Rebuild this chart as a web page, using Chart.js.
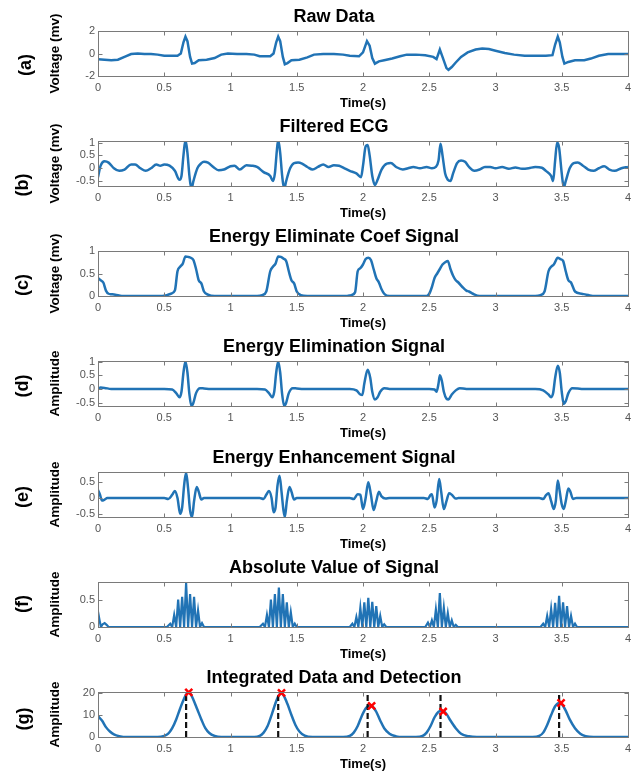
<!DOCTYPE html>
<html>
<head>
<meta charset="utf-8">
<script src="https://cdn.jsdelivr.net/npm/chart.js@4/dist/chart.umd.min.js"></script>
<style>
  body { margin: 0; background: #fff; }
  #wrap { position: relative; width: 642px; height: 772px; overflow: hidden; }
  canvas { position: absolute; left: 0; }
  .lab { position: absolute; font: bold 18px "Liberation Sans", Arial, sans-serif; color: #000;
         transform: translate(-50%, -50%) rotate(-90deg); white-space: nowrap; }
</style>
</head>
<body>
<div id="wrap">
  <canvas id="c0" width="642" height="110" style="top:0px"></canvas>
  <canvas id="c1" width="642" height="110" style="top:110px"></canvas>
  <canvas id="c2" width="642" height="110" style="top:220px"></canvas>
  <canvas id="c3" width="642" height="110" style="top:330px"></canvas>
  <canvas id="c4" width="642" height="110" style="top:441px"></canvas>
  <canvas id="c5" width="642" height="110" style="top:551px"></canvas>
  <canvas id="c6" width="642" height="110" style="top:661px"></canvas>
  <div class="lab" style="left:25px;top:65px">(a)</div>
  <div class="lab" style="left:22px;top:185px">(b)</div>
  <div class="lab" style="left:22px;top:285px">(c)</div>
  <div class="lab" style="left:22px;top:386px">(d)</div>
  <div class="lab" style="left:22px;top:497px">(e)</div>
  <div class="lab" style="left:22px;top:604px">(f)</div>
  <div class="lab" style="left:23px;top:719px">(g)</div>
</div>
<script>
// ---------- tick labels ----------
const xTicks = [0, 0.5, 1, 1.5, 2, 2.5, 3, 3.5, 4];
const aTicks = [-2, 0, 2];
const bTicks = [-0.5, 0, 0.5, 1];
const cTicks = [0, 0.5, 1];
const dTicks = [-0.5, 0, 0.5, 1];
const eTicks = [-0.5, 0, 0.5];
const fTicks = [0, 0.5];
const gTicks = [0, 10, 20];

// ---------- (a) Raw Data ----------
const rawT = [0,0.05,0.1,0.15,0.2,0.25,0.3,0.35,0.4,0.45,0.5,0.55,0.6,0.625,0.645,0.66,0.675,0.695,0.71,0.73,0.76,0.82,0.88,0.93,0.98,1.05,1.12,1.18,1.22,1.3,1.325,1.345,1.36,1.375,1.395,1.41,1.43,1.46,1.52,1.58,1.63,1.7,1.78,1.85,1.9,1.97,2.0,2.03,2.05,2.07,2.09,2.12,2.16,2.22,2.28,2.33,2.4,2.47,2.53,2.555,2.58,2.6,2.63,2.645,2.67,2.7,2.74,2.79,2.85,2.9,2.95,3.0,3.07,3.14,3.22,3.3,3.38,3.43,3.45,3.47,3.485,3.505,3.52,3.55,3.6,3.67,3.72,3.78,3.85,3.92,4.0];
const rawV = [-0.5,-0.55,-0.6,-0.55,-0.3,-0.05,0,-0.05,-0.05,-0.1,-0.2,-0.2,-0.2,0,1.0,1.5,1.1,-0.3,-0.9,-0.85,-0.6,-0.55,-0.4,-0.1,0,-0.05,-0.05,-0.1,-0.25,-0.25,0,1.0,1.5,1.1,-0.3,-0.95,-0.85,-0.6,-0.55,-0.35,-0.1,-0.05,-0.05,-0.1,-0.2,-0.25,0.1,1.1,0.7,-0.4,-0.9,-0.7,-0.6,-0.45,-0.25,-0.1,-0.1,-0.15,-0.3,-0.5,0.35,-0.3,-1.3,-1.45,-1.2,-0.8,-0.3,0.1,0.35,0.45,0.4,0.25,0.05,-0.1,-0.2,-0.2,-0.2,-0.15,0.8,1.5,1.0,-0.3,-0.9,-0.75,-0.6,-0.6,-0.45,-0.2,-0.05,-0.05,-0.05];

// ---------- (b) Filtered ECG ----------
const filtT = [0,0.02,0.05,0.08,0.12,0.16,0.2,0.25,0.28,0.32,0.36,0.4,0.44,0.47,0.5,0.54,0.58,0.615,0.63,0.645,0.66,0.675,0.69,0.705,0.72,0.75,0.78,0.8,0.83,0.87,0.91,0.95,1.0,1.03,1.07,1.12,1.16,1.2,1.25,1.3,1.32,1.335,1.35,1.36,1.375,1.39,1.405,1.42,1.45,1.48,1.51,1.54,1.58,1.62,1.66,1.7,1.74,1.78,1.82,1.86,1.9,1.95,1.985,2.0,2.02,2.035,2.05,2.07,2.09,2.11,2.14,2.18,2.21,2.25,2.3,2.34,2.38,2.43,2.48,2.52,2.55,2.57,2.585,2.6,2.62,2.64,2.66,2.68,2.71,2.74,2.77,2.8,2.84,2.88,2.92,2.96,3.0,3.05,3.1,3.15,3.2,3.25,3.3,3.35,3.38,3.42,3.435,3.45,3.465,3.48,3.5,3.515,3.53,3.56,3.59,3.62,3.66,3.7,3.74,3.78,3.82,3.86,3.9,3.95,4.0];
const filtV = [-0.35,0.1,0.27,0.22,0.0,-0.1,-0.05,0.15,0.15,0.0,-0.1,0.0,0.15,0.1,0.15,0.1,-0.1,-0.45,-0.3,0.5,1.1,0.6,-0.3,-0.8,-0.5,0.0,0.2,0.25,0.22,0.05,-0.08,-0.05,0.08,0.1,-0.05,0.12,0.1,0.05,-0.15,-0.3,-0.5,-0.2,0.7,1.1,0.6,-0.3,-0.8,-0.5,0.0,0.2,0.22,0.18,0.05,-0.05,0.05,0.15,0.05,0.12,0.1,0.0,-0.1,-0.2,-0.35,0.1,0.85,0.9,0.5,-0.3,-0.65,-0.45,-0.05,0.18,0.2,0.05,-0.05,0.0,0.05,0.0,0.05,0.0,0.05,0.3,0.95,0.5,-0.2,-0.45,-0.5,-0.2,0.2,0.3,0.25,0.05,-0.1,-0.05,0.05,0.05,0.0,0.05,-0.02,0.03,-0.02,0.0,0.05,0.02,-0.1,-0.3,-0.5,0.3,1.0,0.8,-0.2,-0.75,-0.5,0.0,0.2,0.22,0.1,-0.05,-0.1,0.0,0.08,-0.05,-0.1,0.0,0.05];

// ---------- (c) Energy Eliminate Coef Signal ----------
const coefT = [0,0.02,0.04,0.06,0.08,0.1,0.13,0.18,0.3,0.45,0.52,0.55,0.58,0.6,0.62,0.64,0.66,0.68,0.7,0.72,0.74,0.76,0.78,0.8,0.83,0.88,1.2,1.24,1.27,1.3,1.32,1.34,1.36,1.38,1.4,1.42,1.44,1.46,1.48,1.5,1.53,1.58,1.88,1.91,1.94,1.96,1.98,2.0,2.02,2.04,2.06,2.08,2.1,2.12,2.14,2.16,2.2,2.48,2.5,2.52,2.54,2.56,2.58,2.6,2.62,2.64,2.66,2.68,2.7,2.72,2.75,2.78,2.8,2.83,2.88,3.3,3.34,3.37,3.4,3.42,3.44,3.47,3.49,3.51,3.53,3.55,3.57,3.6,3.65,3.7,3.75,4.0];
const coefV = [0.4,0.35,0.3,0.12,0.05,0.04,0.03,0.0,0.0,0.0,0.02,0.05,0.12,0.55,0.65,0.72,0.88,0.87,0.85,0.8,0.6,0.35,0.28,0.1,0.03,0.0,0.0,0.02,0.1,0.55,0.65,0.72,0.88,0.87,0.83,0.78,0.55,0.35,0.28,0.1,0.02,0.0,0.0,0.02,0.08,0.55,0.62,0.7,0.82,0.85,0.8,0.6,0.4,0.3,0.15,0.05,0.0,0.0,0.05,0.2,0.4,0.5,0.6,0.7,0.75,0.78,0.6,0.45,0.35,0.3,0.2,0.12,0.1,0.05,0.0,0.0,0.02,0.1,0.55,0.65,0.7,0.85,0.82,0.78,0.55,0.35,0.3,0.1,0.05,0.02,0.0,0.0];

// ---------- (d) Energy Elimination Signal ----------
const elimT = [0,0.02,0.05,0.1,0.5,0.56,0.59,0.615,0.63,0.645,0.66,0.675,0.69,0.705,0.72,0.74,0.77,0.8,0.85,1.2,1.26,1.29,1.315,1.33,1.345,1.36,1.375,1.39,1.405,1.42,1.44,1.47,1.5,1.55,1.9,1.95,1.98,1.995,2.01,2.035,2.055,2.07,2.09,2.11,2.13,2.16,2.2,2.5,2.54,2.555,2.57,2.58,2.595,2.61,2.63,2.645,2.67,2.7,2.73,2.78,3.3,3.36,3.4,3.42,3.435,3.45,3.47,3.485,3.5,3.515,3.53,3.55,3.58,3.62,3.66,4.0];
const elimV = [0.0,0.05,0.04,0.0,0.0,-0.02,-0.15,-0.3,-0.1,0.6,1.0,0.6,-0.2,-0.62,-0.5,-0.15,0.03,0.02,0.0,0.0,-0.02,-0.15,-0.3,-0.1,0.6,1.0,0.6,-0.2,-0.62,-0.5,-0.15,0.03,0.02,0.0,0.0,-0.05,-0.2,-0.22,0.2,0.7,0.4,-0.1,-0.38,-0.3,-0.1,0.03,0.0,0.0,-0.02,-0.1,0.2,0.5,0.3,-0.1,-0.35,-0.38,-0.2,-0.05,0.03,0.0,0.0,-0.05,-0.2,-0.3,-0.15,0.4,0.85,0.6,-0.1,-0.55,-0.45,-0.15,0.03,0.02,0.0,0.0];

// ---------- (e) Energy Enhancement Signal ----------
const enhT = [0,0.015,0.03,0.05,0.07,0.5,0.53,0.56,0.58,0.6,0.62,0.635,0.65,0.665,0.68,0.695,0.71,0.725,0.745,0.76,0.78,0.8,1.22,1.25,1.27,1.29,1.31,1.325,1.34,1.355,1.37,1.385,1.4,1.41,1.425,1.445,1.46,1.48,1.5,1.9,1.93,1.96,1.98,2.0,2.02,2.04,2.06,2.08,2.1,2.12,2.14,2.17,2.2,2.46,2.49,2.51,2.52,2.54,2.555,2.575,2.59,2.61,2.63,2.65,2.67,2.7,2.72,3.33,3.36,3.38,3.4,3.42,3.44,3.455,3.47,3.485,3.5,3.515,3.53,3.55,3.565,3.585,3.61,4.0];
const enhV = [0.25,0.1,-0.08,-0.05,0.0,0.0,-0.03,0.1,0.22,0.0,-0.5,-0.3,0.4,0.8,0.3,-0.4,-0.6,-0.1,0.35,0.2,-0.05,0.0,0.0,-0.03,0.1,0.22,0.0,-0.45,-0.3,0.4,0.7,0.2,-0.4,-0.6,-0.1,0.35,0.2,-0.05,0.0,0.0,-0.03,0.12,0.1,-0.35,0.0,0.5,0.1,-0.38,-0.1,0.2,0.05,-0.02,0.0,0.0,-0.03,0.1,0.12,-0.3,-0.1,0.6,0.2,-0.35,-0.1,0.15,0.1,-0.02,0.0,0.0,-0.03,0.08,0.15,-0.1,-0.35,-0.1,0.55,0.2,-0.2,-0.35,-0.1,0.3,0.2,-0.03,0.0,0.0];

// ---------- (f) Absolute Value of Signal ----------
const absT = [0,0.012,0.022,0.035,0.05,0.065,0.08,
  0.52,0.545,0.56,0.575,0.59,0.605,0.62,0.635,0.65,0.665,0.68,0.695,0.71,0.725,0.74,0.755,0.77,0.785,0.8,
  1.22,1.245,1.26,1.275,1.29,1.305,1.32,1.335,1.35,1.365,1.38,1.395,1.41,1.425,1.44,1.455,1.47,1.485,1.5,
  1.9,1.92,1.935,1.95,1.965,1.98,1.995,2.01,2.025,2.04,2.055,2.07,2.085,2.1,2.115,2.13,2.145,2.16,2.175,
  2.47,2.49,2.505,2.52,2.535,2.55,2.565,2.58,2.595,2.61,2.625,2.64,2.655,2.67,2.685,2.7,2.715,
  3.34,3.36,3.375,3.39,3.405,3.42,3.435,3.45,3.465,3.48,3.495,3.51,3.525,3.54,3.555,3.57,3.585,3.6,3.615,4.0];
const absV = [0.28,0.12,0,0.05,0.07,0.04,0,
  0,0.06,0,0.22,0,0.5,0,0.55,0,0.8,0,0.6,0,0.55,0,0.3,0,0.07,0,
  0,0.06,0,0.22,0,0.5,0,0.6,0,0.72,0,0.6,0,0.45,0,0.27,0,0.06,0,
  0,0.06,0,0.18,0,0.35,0,0.45,0,0.53,0,0.46,0,0.38,0,0.2,0,0.05,0,
  0,0.08,0,0.12,0,0.32,0,0.62,0,0.35,0,0.25,0,0.12,0,0.04,0,
  0,0.06,0,0.2,0,0.33,0,0.44,0,0.57,0,0.45,0,0.38,0,0.2,0,0.06,0,0];

// ---------- (g) Integrated Data and Detection ----------
const intT = [0,0.03,0.06,0.09,0.12,0.16,0.22,0.45,0.5,0.53,0.56,0.59,0.62,0.65,0.67,0.685,0.7,0.72,0.75,0.78,0.81,0.84,0.88,0.93,1.18,1.22,1.25,1.28,1.31,1.34,1.36,1.38,1.4,1.43,1.46,1.49,1.52,1.56,1.62,1.85,1.9,1.93,1.96,1.99,2.02,2.05,2.07,2.1,2.13,2.16,2.2,2.25,2.3,2.4,2.45,2.48,2.51,2.54,2.57,2.6,2.63,2.66,2.7,2.74,2.8,2.86,3.28,3.33,3.36,3.39,3.42,3.45,3.48,3.5,3.53,3.56,3.6,3.64,3.68,3.74,4.0];
const intV = [9.5,7.5,4.5,2.5,1.2,0.4,0.0,0.0,0.5,1.5,4,8,13,17.5,19.8,20.3,19.5,17,12.5,8,4,1.8,0.5,0.0,0.0,0.5,2,5,10,15.5,18.5,20,19,15,10,5.5,2.5,0.6,0.0,0.0,0.5,2,5,9.5,13,14.5,14,11.5,7.5,4,1.5,0.3,0.0,0.0,0.5,2,5,9,11.5,12,10.5,7.5,4,1.5,0.3,0.0,0.0,0.5,2,5.5,10,14,15.5,15,12,8,4,1.5,0.4,0.0,0.0];
const qrsT = [0.665, 1.36, 2.035, 2.585, 3.48];
const peakT = [0.685, 1.385, 2.065, 2.605, 3.495];
const peakV = [20.3, 20.1, 14.2, 11.6, 15.5];

// ---------- drawing ----------
const FONT = '"Liberation Sans", Arial, sans-serif';
const BLUE = '#2173b5';

const pts = (ts, vs) => ts.map((t, i) => ({ x: t, y: vs[i] }));

const boxPlugin = {
  id: 'matlabBox',
  afterDatasetsDraw(chart) {
    const { ctx, chartArea: a, scales: { x, y } } = chart;
    const L = Math.round(a.left) + 0.5, R = Math.round(a.right) + 0.5;
    const T = Math.round(a.top) + 0.5, B = Math.round(a.bottom) + 0.5;
    ctx.save();
    ctx.strokeStyle = '#7a7a7a';
    ctx.lineWidth = 1;
    ctx.strokeRect(L, T, R - L, B - T);
    ctx.beginPath();
    x.ticks.forEach(t => {
      const p = Math.round(x.getPixelForValue(t.value)) + 0.5;
      ctx.moveTo(p, B); ctx.lineTo(p, B - 4);
      ctx.moveTo(p, T); ctx.lineTo(p, T + 4);
    });
    y.ticks.forEach(t => {
      const p = Math.round(y.getPixelForValue(t.value)) + 0.5;
      ctx.moveTo(L, p); ctx.lineTo(L + 4, p);
      ctx.moveTo(R, p); ctx.lineTo(R - 4, p);
    });
    ctx.stroke();
    ctx.restore();
  }
};

function line(ts, vs, smooth, width) {
  return {
    data: pts(ts, vs), borderColor: BLUE, borderWidth: width || 2.5, pointRadius: 0,
    cubicInterpolationMode: smooth ? 'monotone' : 'default', tension: 0, order: 5
  };
}

function panel(id, title, yTitle, yMin, yMax, yTicks, datasets) {
  return new Chart(document.getElementById(id), {
    type: 'line',
    data: { datasets },
    options: {
      responsive: false, animation: false, devicePixelRatio: 1,
      layout: { padding: { left: 40, right: 14, top: 0, bottom: 0 } },
      plugins: {
        legend: { display: false }, tooltip: { enabled: false },
        title: { display: true, text: title, color: '#000',
          font: { family: FONT, size: 18, weight: 'bold', lineHeight: 1.2 },
          padding: { top: 6, bottom: 3.4 } }
      },
      scales: {
        x: {
          type: 'linear', min: 0, max: 4,
          afterBuildTicks: s => { s.ticks = xTicks.map(v => ({ value: v })); },
          afterFit: s => { s.height = 34; },
          grid: { display: false, drawTicks: false }, border: { display: false },
          ticks: { padding: 5, color: '#555', autoSkip: false, maxRotation: 0,
            font: { family: FONT, size: 11 }, callback: v => String(v) },
          title: { display: true, text: 'Time(s)', color: '#000', padding: 0,
            font: { family: FONT, size: 13, weight: 'bold', lineHeight: 1 } }
        },
        y: {
          type: 'linear', min: yMin, max: yMax,
          afterBuildTicks: s => { s.ticks = yTicks.map(v => ({ value: v })); },
          afterFit: s => { s.width = 58; },
          grid: { display: false, drawTicks: false }, border: { display: false },
          ticks: { padding: 3, color: '#555', autoSkip: false,
            font: { family: FONT, size: 11 }, callback: v => String(v) },
          title: { display: true, text: yTitle, color: '#000', padding: { top: 7, bottom: 0 },
            font: { family: FONT, size: 13.5, weight: 'bold', lineHeight: 1.2 } }
        }
      }
    },
    plugins: [boxPlugin]
  });
}

panel('c0', 'Raw Data', 'Voltage (mv)', -2, 2, aTicks, [line(rawT, rawV, false)]);
panel('c1', 'Filtered ECG', 'Voltage (mv)', -0.69, 1.06, bTicks, [line(filtT, filtV, true)]);
panel('c2', 'Energy Eliminate Coef Signal', 'Voltage (mv)', 0, 1, cTicks, [line(coefT, coefV, true)]);
panel('c3', 'Energy Elimination Signal', 'Amplitude', -0.62, 1.02, dTicks, [line(elimT, elimV, true)]);
panel('c4', 'Energy Enhancement Signal', 'Amplitude', -0.6, 0.82, eTicks, [line(enhT, enhV, true)]);
panel('c5', 'Absolute Value of Signal', 'Amplitude', 0, 0.82, fTicks, [line(absT, absV, false, 2.2)]);

const gMax = 20.5;
const qrsLines = qrsT.flatMap(t => [{ x: t, y: 0 }, { x: t, y: gMax }, { x: t, y: null }]);
panel('c6', 'Integrated Data and Detection', 'Amplitude', 0, gMax, gTicks, [
  { data: pts(peakT, peakV), showLine: false, pointStyle: 'crossRot', pointRadius: 5,
    pointBorderColor: '#ff0000', pointBackgroundColor: '#ff0000', pointBorderWidth: 2.5, clip: false, order: 0 },
  { data: qrsLines, borderColor: '#111', borderWidth: 2.2, borderDash: [6, 3], pointRadius: 0,
    tension: 0, spanGaps: false, order: 1 },
  line(intT, intV, true)
]);
</script>
</body>
</html>
